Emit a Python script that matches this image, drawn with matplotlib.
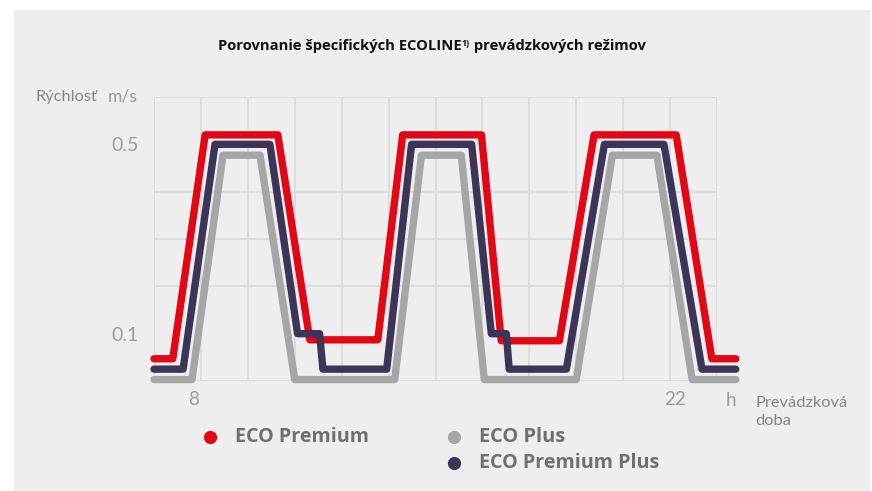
import numpy as np
import matplotlib
matplotlib.use("Agg")
import matplotlib.pyplot as plt
from matplotlib.patches import Rectangle

# data in grid-cell units on x (12 cells), m/s on y
premium_x = [0, 0.40, 1.09, 2.64, 3.32, 4.77, 5.30, 6.98, 7.40, 8.64, 9.38, 11.13, 11.89, 12.40]
premium_y = [0.047, 0.047, 0.52, 0.52, 0.087, 0.087, 0.52, 0.52, 0.085, 0.085, 0.52, 0.52, 0.047, 0.047]

premium_plus_x = [0, 0.62, 1.30, 2.47, 3.06, 3.53, 3.60, 4.96, 5.49, 6.77, 7.19, 7.51, 7.57, 8.79,
                  9.60, 10.87, 11.68, 12.40]
premium_plus_y = [0.025, 0.025, 0.50, 0.50, 0.10, 0.10, 0.025, 0.025, 0.50, 0.50, 0.10, 0.10, 0.025, 0.025,
                  0.50, 0.50, 0.025, 0.025]

plus_x = [0, 0.81, 1.47, 2.26, 3.00, 5.13, 5.70, 6.55, 7.04, 9.00, 9.77, 10.72, 11.47, 12.40]
plus_y = [0.003, 0.003, 0.477, 0.477, 0.003, 0.003, 0.477, 0.477, 0.003, 0.003, 0.477, 0.477, 0.003, 0.003]

x_tick_pos = [0.85, 11.1]
x_tick_labels = ["8", "22"]
y_tick_pos = [0.1, 0.5]
y_tick_labels = ["0.1", "0.5"]

series_names = ["ECO Premium", "ECO Plus", "ECO Premium Plus"]

RED = "#e30613"
DARK = "#3c3558"
GREY = "#a6a6a6"
BG = "#eeeeee"
GRID = "#dcdcdc"
LIGHT_TXT = "#9c9c9c"
CAP_TXT = "#858585"
LEG_TXT = "#707070"

W, H = 872, 491
fig = plt.figure(figsize=(W / 100, H / 100), dpi=100, facecolor="white")
renderer = fig.canvas.get_renderer()


def fx(x):
    return x / W


def fy(y):
    return 1 - y / H


def fit_text(x, y, s, target_w, size0, **kw):
    # scale font so the text spans roughly the width seen in the reference
    t = fig.text(fx(x), fy(y), s, fontsize=size0, **kw)
    w = t.get_window_extent(renderer).width
    t.set_fontsize(size0 * target_w / w)
    return t


fig.patches.append(Rectangle((fx(14), 0), fx(870) - fx(14), fy(10), transform=fig.transFigure,
                             facecolor=BG, edgecolor="none", zorder=-10))

ax = fig.add_axes([fx(154), fy(381), fx(717) - fx(154), fy(97) - fy(381)])
ax.set_facecolor("none")
ax.set_xlim(0, 12)
ax.set_ylim(0, 0.6)
for s in ax.spines.values():
    s.set_visible(False)

ax.set_xticks(np.arange(0, 13), minor=True)
ax.set_yticks(np.arange(0, 0.61, 0.1), minor=True)
ax.grid(which="minor", color=GRID, linewidth=1.4)
ax.set_axisbelow(True)
ax.tick_params(which="both", length=0)
ax.set_xticks(x_tick_pos)
ax.set_xticklabels(x_tick_labels)
ax.set_yticks(y_tick_pos)
ax.set_yticklabels(y_tick_labels)
ax.tick_params(axis="x", pad=7, labelsize=13.5, labelcolor=LIGHT_TXT)
ax.tick_params(axis="y", pad=11, labelsize=14, labelcolor=LIGHT_TXT)
for lab in ax.get_xticklabels() + ax.get_yticklabels():
    lab.set_family("Lato")

lw = 5.3
kw = dict(linewidth=lw, solid_capstyle="round", solid_joinstyle="round", clip_on=False)
ax.plot(plus_x, plus_y, color=GREY, zorder=3, **kw)
ax.plot(premium_x, premium_y, color=RED, zorder=4, **kw)
ax.plot(premium_plus_x, premium_plus_y, color=DARK, zorder=5, **kw)

# axis captions
fit_text(35, 97, "Rýchlosť", 62, 12.5, family="Lato", color=CAP_TXT, va="center", ha="left")
fit_text(108, 97, "m/s", 30, 12.5, family="Lato", color=LIGHT_TXT, va="center", ha="left")
fig.text(fx(731), fy(401), "h", family="Lato", fontsize=13.5,
         color=LIGHT_TXT, va="center", ha="center")
cap = fit_text(755, 412, "Prevádzková", 92, 11, family="Lato", color=CAP_TXT, va="center", ha="left")
cap.set_text("Prevádzková\ndoba")
cap.set_linespacing(1.35)

# title with superscript
tkw = dict(family="Open Sans", fontweight="bold", color="#111111", va="baseline")
parts = [("Porovnanie špecifických ECOLINE", 1.0, 0), ("1)", 0.6, 4.5), (" prevádzkových režimov", 1.0, 0)]
base = 10.5
texts = []
for s, rel, rise in parts:
    texts.append(fig.text(0, fy(50) + rise / H, s, fontsize=base * rel, **tkw))
total = sum(t.get_window_extent(renderer).width for t in texts)
scale = 430 / total
for t in texts:
    t.set_fontsize(t.get_fontsize() * scale)
widths = [t.get_window_extent(renderer).width for t in texts]
x0 = 432 - sum(widths) / 2
for t, w in zip(texts, widths):
    t.set_x(fx(x0))
    x0 += w

# legend
leg_items = [(series_names[0], RED, 210, 437, 134), (series_names[1], GREY, 454, 437, 86),
             (series_names[2], DARK, 454, 463, 180)]
for name, col, lx, ly, tw in leg_items:
    fig.add_artist(plt.Line2D([fx(lx)], [fy(ly)], marker="o", markersize=8.5, color=col,
                              linestyle="none", transform=fig.transFigure))
    fit_text(lx + 25, ly, name, tw, 13, family="Open Sans", fontweight="bold",
             color=LEG_TXT, va="center", ha="left")

fig.savefig("out.png", dpi=100, facecolor="white")
